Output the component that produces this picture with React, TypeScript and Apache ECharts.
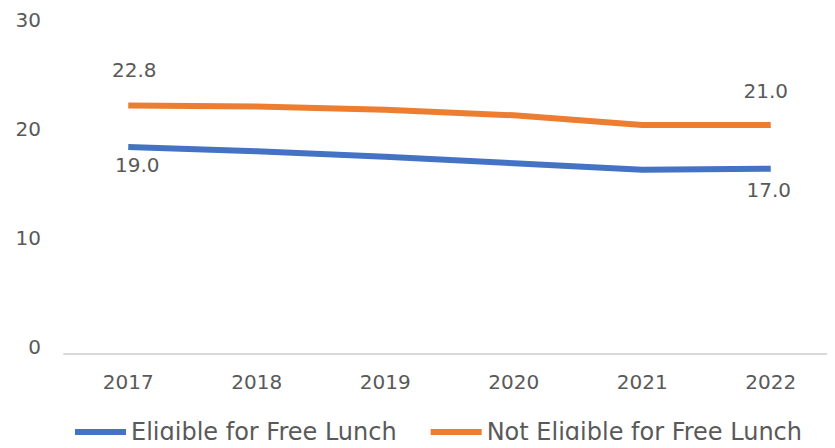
import React, { useEffect, useRef } from "react";
import * as echarts from "echarts";

const years = ["2017", "2018", "2019", "2020", "2021", "2022"];
const eligible = [19.0, 18.6, 18.1, 17.5, 16.9, 17.0];
const notEligible = [22.8, 22.7, 22.4, 21.9, 21.0, 21.0];
const yTicks = { min: 0, max: 30, interval: 10 };

const FONT = "DejaVu Sans";
const GRAY = "#595959";

function withEndLabels(
  values: number[],
  pos: "top" | "bottom",
  dist: number,
  offsets: [number, number][]
) {
  return values.map((v, i) =>
    i === 0 || i === values.length - 1
      ? {
          value: v,
          label: {
            show: true,
            position: pos,
            distance: dist,
            offset: i === 0 ? offsets[0] : offsets[1],
            formatter: (p: any) => Number(p.value).toFixed(1),
            fontFamily: FONT,
            fontSize: 20,
            color: GRAY,
          },
        }
      : v
  );
}

export default function App() {
  const ref = useRef<HTMLDivElement>(null);
  useEffect(() => {
    if (!ref.current) return;
    const chart = echarts.init(ref.current, null, { renderer: "svg" });
    chart.setOption({
      animation: false,
      grid: { left: 64, right: -10, top: 27, bottom: 94 },
      legend: {
        top: 420,
        left: 75,
        padding: 0,
        icon: "rect",
        itemWidth: 51,
        itemHeight: 6,
        itemGap: 34,
        textStyle: { fontFamily: FONT, fontSize: 24, color: GRAY },
        data: ["Eligible for Free Lunch", "Not Eligible for Free Lunch"],
      },
      xAxis: {
        type: "category",
        data: years,
        boundaryGap: true,
        axisLine: { show: true, lineStyle: { color: "#d9d9d9", width: 2 } },
        axisTick: { show: false },
        axisLabel: { fontFamily: FONT, fontSize: 20, color: GRAY, margin: 18 },
      },
      yAxis: {
        type: "value",
        min: yTicks.min,
        max: yTicks.max,
        interval: yTicks.interval,
        splitLine: { show: false },
        axisLine: { show: false },
        axisTick: { show: false },
        axisLabel: {
          fontFamily: FONT,
          fontSize: 20,
          color: GRAY,
          margin: 23,
          verticalAlign: "bottom",
          lineHeight: 14,
        },
      },
      series: [
        {
          name: "Eligible for Free Lunch",
          type: "line",
          data: withEndLabels(eligible, "bottom", 8, [
            [9, 0],
            [-2, 3],
          ]),
          symbol: "circle",
          symbolSize: 0,
          showSymbol: true,
          lineStyle: { color: "#4472C4", width: 6 },
          itemStyle: { color: "#4472C4" },
        },
        {
          name: "Not Eligible for Free Lunch",
          type: "line",
          data: withEndLabels(notEligible, "top", 23, [
            [6, -2],
            [-5, -1],
          ]),
          symbol: "circle",
          symbolSize: 0,
          showSymbol: true,
          lineStyle: { color: "#ED7D31", width: 6 },
          itemStyle: { color: "#ED7D31" },
        },
      ],
    });
    return () => chart.dispose();
  }, []);
  return <div ref={ref} style={{ width: 835, height: 448, margin: -8 }} />;
}
